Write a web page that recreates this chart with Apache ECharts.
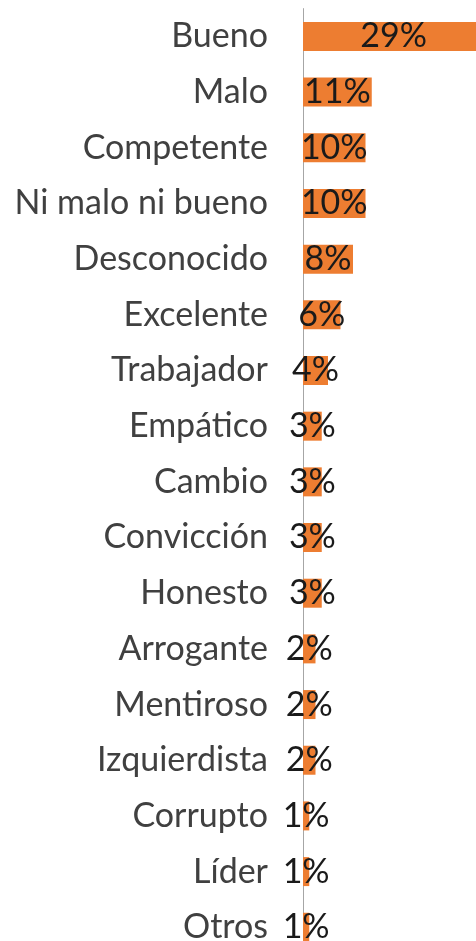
<!DOCTYPE html>
<html>
<head>
<meta charset="utf-8">
<script src="https://cdn.jsdelivr.net/npm/echarts@6/dist/echarts.min.js"></script>
<style>
  html, body { margin: 0; padding: 0; background: #fff; overflow: hidden; }
  #chart { width: 476px; height: 941px; }
</style>
</head>
<body>
<div id="chart"></div>
<script>
// Word associations, percentage of mentions
const categories = [
  'Bueno', 'Malo', 'Competente', 'Ni malo ni bueno', 'Desconocido', 'Excelente',
  'Trabajador', 'Empático', 'Cambio', 'Convicción', 'Honesto', 'Arrogante',
  'Mentiroso', 'Izquierdista', 'Corrupto', 'Líder', 'Otros'
];
const values = [29, 11, 10, 10, 8, 6, 4, 3, 3, 3, 3, 2, 2, 2, 1, 1, 1];

const chart = echarts.init(document.getElementById('chart'));
chart.setOption({
  animation: false,
  grid: {
    left: 303, top: 8.6, width: 187.5, height: 946.5,
    outerBoundsMode: 'none',
    containLabel: false
  },
  xAxis: {
    type: 'value',
    min: 0,
    max: 30,
    show: false
  },
  yAxis: {
    type: 'category',
    data: categories,
    inverse: true,
    axisLine: { show: true, lineStyle: { color: '#a6a6a6', width: 1 } },
    axisTick: { show: false },
    axisLabel: {
      margin: 35,
      fontFamily: 'Lato',
      fontSize: 34,
      color: '#404040'
    }
  },
  series: [{
    type: 'bar',
    data: values,
    barWidth: 29,
    clip: false,
    itemStyle: { color: '#ED7D31' },
    label: {
      show: true,
      position: 'inside',
      formatter: '{c}%',
      fontFamily: 'Lato',
      fontSize: 34,
      color: '#1a1a1a'
    }
  }]
});
</script>
</body>
</html>
